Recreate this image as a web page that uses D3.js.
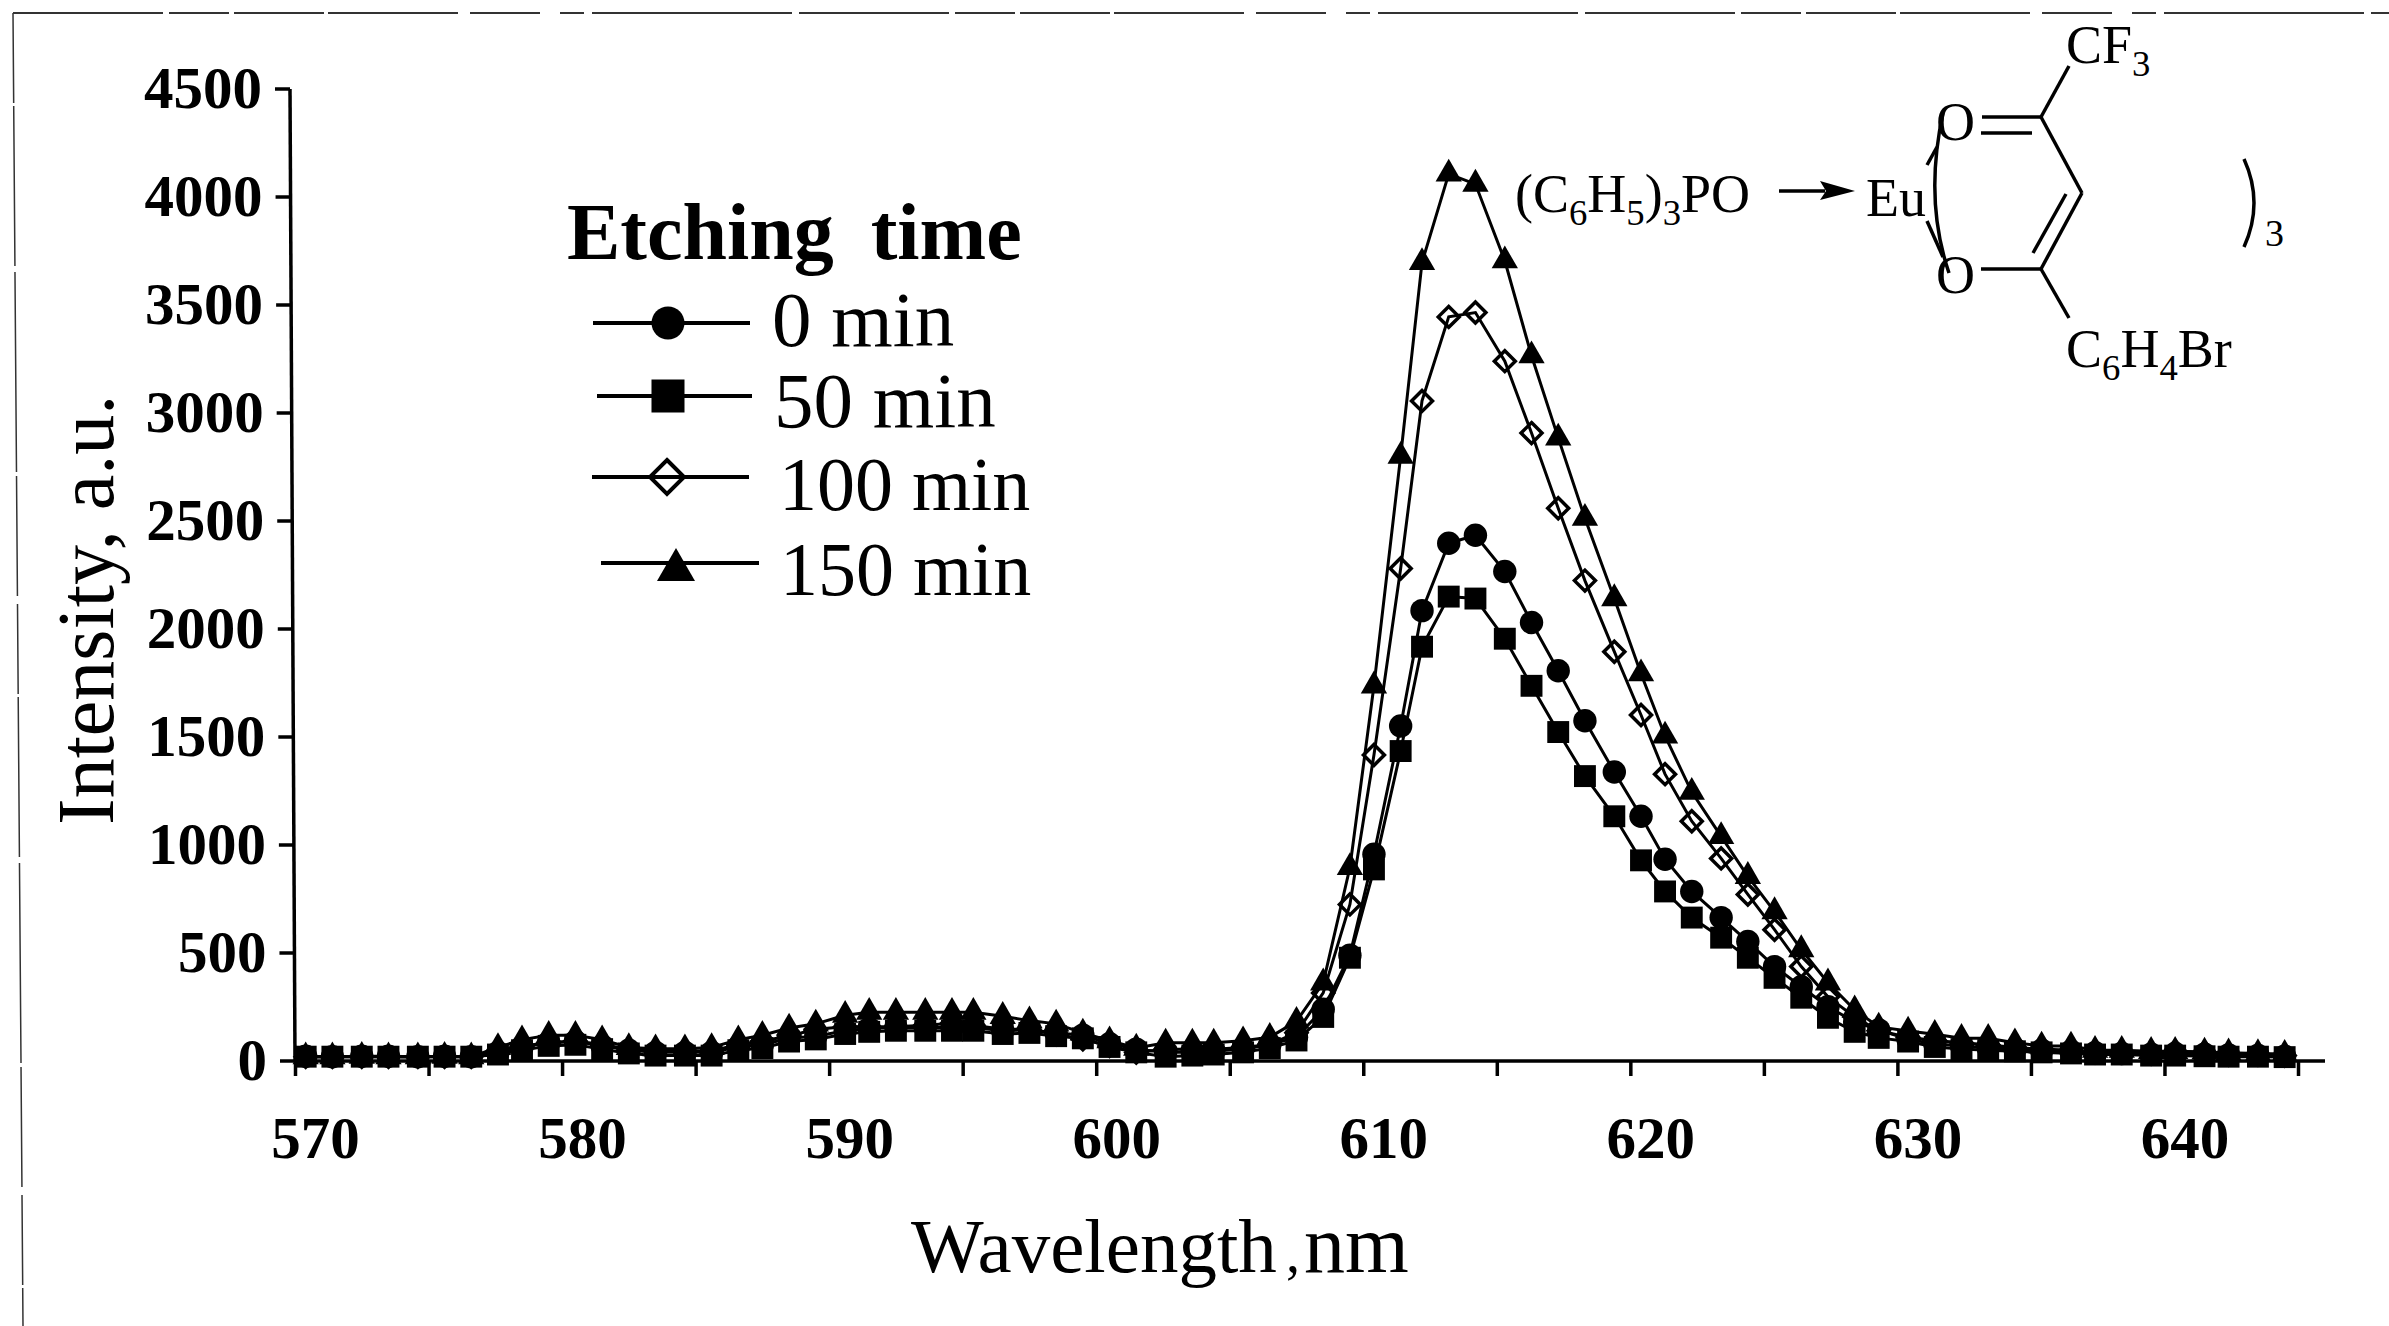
<!DOCTYPE html>
<html>
<head>
<meta charset="utf-8">
<script src="https://cdn.jsdelivr.net/npm/d3@7"></script>
<style>
  body { margin: 0; background: #fff; }
  text { font-family: "Liberation Serif", serif; fill: #000; }
  .axis path, .axis line { stroke: #000; stroke-width: 3.5; }
  .axis text { font-size: 59px; font-weight: bold; }
  .bond { stroke: #000; stroke-width: 3.5; fill: none; }
</style>
</head>
<body>
<svg id="chart" width="2389" height="1326"></svg>
<script>
// wavelength of each point (nm)
var wavelengths = [570.4, 571.4, 572.5, 573.5, 574.6, 575.6, 576.6, 577.6, 578.5, 579.5,
  580.5, 581.5, 582.5, 583.5, 584.6, 585.6, 586.6, 587.5, 588.5, 589.5,
  590.6, 591.5, 592.5, 593.6, 594.6, 595.4, 596.5, 597.5, 598.5, 599.5,
  600.5, 601.5, 602.6, 603.6, 604.4, 605.5, 606.5, 607.5, 608.5, 609.5,
  610.4, 611.4, 612.2, 613.2, 614.2, 615.3, 616.3, 617.3, 618.3, 619.4,
  620.4, 621.3, 622.3, 623.4, 624.4, 625.4, 626.4, 627.4, 628.4, 629.3,
  630.4, 631.4, 632.4, 633.4, 634.4, 635.4, 636.5, 637.4, 638.4, 639.5,
  640.4, 641.5, 642.4, 643.5, 644.5];

var min0 = [22, 20, 22, 22, 20, 22, 20, 40, 65, 85, 90, 70, 50, 40, 40, 40, 65, 75, 105, 115,
  140, 150, 155, 155, 155, 155, 140, 145, 130, 120, 80, 55, 40, 40, 45, 55, 75, 110,
  240, 490, 957, 1551, 2085, 2397, 2434, 2266, 2030, 1807, 1575, 1338,
  1133, 934, 785, 664, 553, 437, 344, 251, 181, 144,
  100, 80, 70, 60, 55, 50, 45, 38, 35, 32, 35, 32, 28, 26, 22];

var min50 = [20, 20, 20, 20, 20, 20, 20, 30, 50, 70, 75, 55, 35, 25, 25, 25, 50, 60, 90, 100,
  125, 135, 140, 140, 140, 140, 125, 130, 115, 105, 65, 40, 20, 25, 30, 40, 60, 95,
  204, 478, 887, 1435, 1918, 2150, 2141, 1955, 1737, 1523, 1319, 1133,
  929, 785, 664, 571, 478, 385, 293, 200, 135, 107,
  90, 65, 55, 50, 45, 40, 35, 30, 30, 25, 25, 22, 20, 20, 18];

var min100 = [20, 20, 20, 20, 20, 20, 20, 46, 70, 85, 93, 77, 54, 46, 46, 46, 77, 93, 116, 147,
  159, 159, 159, 166, 175, 166, 147, 147, 124, 101, 70, 39, 54, 54, 54, 62, 77, 131,
  315, 725, 1417, 2280, 3056, 3445, 3465, 3240, 2907, 2559, 2224, 1895,
  1602, 1328, 1110, 938, 771, 608, 437, 297, 204, 140,
  110, 95, 85, 75, 62, 55, 50, 40, 40, 35, 45, 40, 30, 30, 25];

var min150 = [20, 20, 22, 20, 20, 22, 20, 63, 99, 119, 119, 99, 63, 57, 57, 63, 99, 119, 153, 172,
  212, 226, 226, 226, 226, 226, 207, 187, 172, 130, 94, 60, 84, 84, 84, 94, 110, 184,
  362, 896, 1737, 2800, 3697, 4107, 4060, 3705, 3265, 2885, 2513, 2141,
  1793, 1505, 1245, 1040, 855, 692, 516, 362, 237, 158,
  139, 124, 105, 105, 85, 70, 70, 50, 50, 45, 45, 42, 38, 35, 32];

var seriesNames = ["0 min", "50 min", "100 min", "150 min"];
var xTicks = d3.range(570, 650, 5);
var yTicks = d3.range(0, 5000, 500);

var svg = d3.select("#chart");

var x = d3.scaleLinear().domain([570, 645]).range([295, 2298]),
  y = d3.scaleLinear().domain([0, 4500]).range([1061, 89]),
  // the scanned y axis leans a little to the left going up
  lean = d3.scaleLinear().domain([0, 4500]).range([295, 290]);

var line = d3.line()
  .x(function(d){ return x(d[0]); })
  .y(function(d){ return y(d[1]); });

var circleMark = d3.symbol().type(d3.symbolCircle),
  squareMark = d3.symbol().type(d3.symbolSquare),
  diamondMark = d3.symbol().type(d3.symbolDiamond2),
  triangleMark = d3.symbol().type(d3.symbolTriangle);

var series = [
  {values: min0, mark: circleMark, size: 430, hollow: false, legendSize: 855},
  {values: min50, mark: squareMark, size: 480, hollow: false, legendSize: 1090},
  {values: min100, mark: diamondMark, size: 280, hollow: true, legendSize: 740},
  {values: min150, mark: triangleMark, size: 300, hollow: false, legendSize: 625}
];

// axes
var xAxis = d3.axisBottom(x)
  .tickValues(xTicks)
  .tickSize(15)
  .tickFormat(function(d){ return d % 10 === 0 ? d : ""; });

var yAxis = d3.axisLeft(y)
  .tickValues(yTicks)
  .tickFormat(d3.format("d"))
  .tickSize(15)
  .tickPadding(13);

svg.append("g")
  .attr("class", "axis")
  .attr("transform", "translate(0,1061)")
  .call(xAxis)
  .call(function(g){
    g.select(".domain").attr("d", "M295,0H2325");
    g.selectAll("text")
      .attr("y", 97)
      .attr("dy", 0)
      .attr("x", 20);
  });

svg.append("g")
  .attr("class", "axis")
  .call(yAxis)
  .call(function(g){
    g.select(".domain").attr("d", "M" + lean(4500) + "," + y(4500) + "L" + lean(0) + "," + y(0));
    g.selectAll(".tick")
      .attr("transform", function(d){ return "translate(" + lean(d) + "," + y(d) + ")"; });
  });

// series, later ones on top
series.forEach(function(s){
  var pts = d3.zip(wavelengths, s.values),
    g = svg.append("g");

  g.append("path")
    .attr("d", line(pts))
    .attr("fill", "none")
    .attr("stroke", "#000")
    .attr("stroke-width", 3);

  g.selectAll("path.mark")
    .data(pts)
    .enter()
    .append("path")
    .attr("class", "mark")
    .attr("transform", function(d){ return "translate(" + x(d[0]) + "," + y(d[1]) + ")"; })
    .attr("d", s.mark.size(s.size))
    .attr("fill", s.hollow ? "none" : "#000")
    .attr("stroke", "#000")
    .attr("stroke-width", s.hollow ? 3.5 : 0);
});

// axis titles, the comma is squeezed small in the original
var xTitle = svg.append("text")
  .attr("y", 1272);
xTitle.append("tspan").attr("x", 911).attr("font-size", 77).text("Wavelength");
xTitle.append("tspan").attr("x", 1286).attr("font-size", 56).text(",");
xTitle.append("tspan").attr("x", 1304).attr("font-size", 82).text("nm");

svg.append("text")
  .attr("transform", "translate(113,825) rotate(-90)")
  .attr("font-size", 80)
  .text("Intensity, a.u.");

// legend
svg.append("text")
  .attr("x", 567)
  .attr("y", 259)
  .attr("font-size", 80)
  .attr("font-weight", "bold")
  .attr("word-spacing", 17)
  .text("Etching time");

var legendRows = [
  {x0: 593, x1: 750, y: 323, mx: 668, my: 323, tx: 772, ty: 346, size: 79},
  {x0: 597, x1: 752, y: 396, mx: 668, my: 396, tx: 774, ty: 427, size: 79},
  {x0: 592, x1: 749, y: 477, mx: 667, my: 477, tx: 779, ty: 510, size: 76},
  {x0: 601, x1: 759, y: 563, mx: 676, my: 570, tx: 780, ty: 595, size: 76}
];

legendRows.forEach(function(r, i){
  var s = series[i];
  svg.append("line")
    .attr("x1", r.x0).attr("x2", r.x1)
    .attr("y1", r.y).attr("y2", r.y)
    .attr("stroke", "#000")
    .attr("stroke-width", 4);
  svg.append("path")
    .attr("transform", "translate(" + r.mx + "," + r.my + ")")
    .attr("d", s.mark.size(s.legendSize))
    .attr("fill", s.hollow ? "none" : "#000")
    .attr("stroke", "#000")
    .attr("stroke-width", s.hollow ? 4 : 0);
  svg.append("text")
    .attr("x", r.tx)
    .attr("y", r.ty)
    .attr("font-size", r.size)
    .text(seriesNames[i]);
});

// structure inset
var formula = function(px, py, parts, size){
  var t = svg.append("text")
    .attr("x", px)
    .attr("y", py)
    .attr("font-size", size);
  var last = 0;
  parts.forEach(function(p){
    var shift = p[1] ? 13 : 0;
    t.append("tspan")
      .attr("dy", shift - last)
      .attr("font-size", p[1] ? size * 0.68 : size)
      .text(p[0]);
    last = shift;
  });
};

formula(1515, 212, [["(C", 0], ["6", 1], ["H", 0], ["5", 1], [")", 0], ["3", 1], ["PO", 0]], 54);
formula(1866, 216, [["Eu", 0]], 54);
formula(1936, 140, [["O", 0]], 54);
formula(1936, 293, [["O", 0]], 54);
formula(2066, 63, [["CF", 0], ["3", 1]], 54);
formula(2066, 367, [["C", 0], ["6", 1], ["H", 0], ["4", 1], ["Br", 0]], 54);
formula(2265, 246, [["3", 0]], 38);

var bonds = [
  "M2041,117L2069,66",
  "M1982,117H2041",
  "M1981,133H2032",
  "M2041,117L2082,193",
  "M2082,193L2041,269",
  "M2066,194L2033,253",
  "M2041,269H1981",
  "M2041,269L2069,318",
  "M2244,159Q2264,203 2244,247",
  "M1943,113Q1924,200 1949,273",
  "M1927,165L1937,147",
  "M1927,221L1943,257",
  "M1779,191H1825"
];

svg.selectAll("path.bond")
  .data(bonds)
  .enter()
  .append("path")
  .attr("class", "bond")
  .attr("d", function(d){ return d; });

svg.append("path")
  .attr("d", "M1820,181L1855,191L1820,200L1826,191Z")
  .attr("fill", "#000");

// scan edges
svg.append("path")
  .attr("d", "M13,13H2389")
  .attr("fill", "none")
  .attr("stroke", "#333")
  .attr("stroke-width", 2)
  .attr("stroke-dasharray", "150 6 60 5 90 4 130 12 70 20 24 8 200 7");

svg.append("path")
  .attr("d", "M13,13L23,1326")
  .attr("fill", "none")
  .attr("stroke", "#333")
  .attr("stroke-width", 1.5)
  .attr("stroke-dasharray", "90 3 160 6 200 4 120 8");
</script>
</body>
</html>
